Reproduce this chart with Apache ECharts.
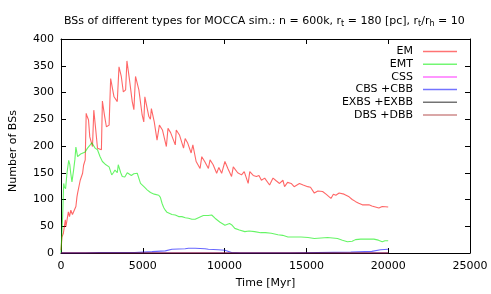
<!DOCTYPE html>
<html><head><meta charset="utf-8">
<script src="https://cdn.jsdelivr.net/npm/echarts@6/dist/echarts.min.js"></script>
<style>html,body{margin:0;padding:0;background:#fff}#c{width:491px;height:294px}</style>
</head><body><div id="c"></div>
<script>
var xTicks = [0, 5000, 10000, 15000, 20000, 25000];
var yTicks = [0, 50, 100, 150, 200, 250, 300, 350, 400];
var seriesNames = ['EM', 'EMT', 'CSS', 'CBS +CBB', 'EXBS +EXBB', 'DBS +DBB'];

var emData = [[0,5],[60,30],[145,37],[265,62],[300,49],[450,77],[520,68],[600,80],[700,72],[810,75],[910,87],[975,105],[1015,112],[1175,136],[1320,149],[1380,164],[1480,174],[1540,261],[1600,255],[1680,249],[1760,217],[1925,199],[2005,267],[2125,230],[2230,196],[2470,193],[2530,284],[2670,255],[2775,236],[2940,239],[3035,326],[3240,292],[3440,283],[3545,348],[3685,330],[3810,301],[3950,305],[4030,359],[4190,323],[4355,283],[4455,268],[4555,330],[4760,305],[4960,258],[5060,245],[5125,292],[5370,255],[5465,250],[5525,270],[5700,245],[5870,211],[6015,239],[6200,230],[6440,199],[6540,233],[6700,225],[6985,202],[7045,230],[7250,220],[7490,196],[7590,214],[7750,205],[7955,187],[8060,202],[8260,171],[8500,158],[8605,180],[8800,170],[9010,158],[9110,174],[9300,165],[9515,149],[9650,160],[9820,149],[10020,171],[10200,158],[10425,143],[10530,161],[10800,150],[11035,146],[11200,152],[11440,130],[11540,152],[11750,145],[11945,143],[12100,145],[12250,136],[12450,140],[12550,143],[12750,127],[12960,140],[13150,135],[13360,130],[13565,136],[13665,124],[13850,132],[14070,130],[14250,124],[14575,130],[14800,127],[15080,124],[15250,123],[15485,112],[15700,116],[15990,115],[16200,110],[16500,102],[16650,110],[16800,108],[17000,112],[17300,110],[17610,105],[17800,100],[18015,96],[18200,93],[18420,90],[18825,90],[19000,88],[19430,84],[19635,87],[20000,86]];

var emtData = [[0,0],[40,30],[100,68],[165,130],[205,124],[280,120],[365,149],[470,173],[540,165],[590,150],[670,133],[770,155],[850,175],[910,198],[1015,180],[1075,177],[1200,185],[1320,186],[1480,189],[1620,196],[1785,202],[1880,206],[1950,203],[2085,196],[2230,193],[2390,180],[2530,171],[2590,168],[2700,166],[2800,165],[2940,161],[3100,146],[3200,150],[3300,155],[3440,150],[3500,165],[3650,150],[3745,143],[3900,142],[4050,150],[4150,152],[4300,145],[4450,148],[4660,149],[4760,148],[4860,130],[4960,127],[5100,123],[5265,118],[5365,118],[5470,113],[5570,112],[5700,110],[5770,112],[5975,108],[6075,104],[6175,93],[6275,85],[6375,80],[6480,76],[6580,74],[6780,72],[6985,71],[7190,68],[7390,68],[7600,66],[7795,65],[8000,63],[8200,63],[8400,66],[8500,68],[8700,70],[8805,71],[9000,70],[9210,71],[9315,71],[9415,65],[9515,62],[9700,58],[9820,59],[10020,52],[10120,52],[10300,55],[10425,53],[10625,46],[10900,43],[11235,40],[11500,41],[11840,40],[12200,38],[12500,38],[12855,37],[13260,34],[13550,33],[13870,30],[14300,30],[14675,30],[15100,29],[15485,27],[15900,28],[16295,29],[16600,28],[16900,27],[17200,24],[17510,21],[17800,22],[18000,25],[18320,26],[18700,26],[19125,26],[19400,24],[19635,21],[19800,23],[20000,23]];

var cssData = [[0,0],[5000,0],[10000,0],[15000,0],[20000,0]];
var cbsData = [[0,0],[1500,0],[2330,1],[3500,1],[4500,1],[5570,2.5],[6375,4],[6780,7],[7590,8],[7795,9],[8200,9],[8800,8],[9010,7],[9615,6],[10020,5],[10425,1],[11000,0],[12500,0],[14000,0],[15690,1],[17710,2],[19000,3],[19530,6],[20000,7]];
var exbsData = [[0,0],[5000,0],[10000,0],[15000,0],[20000,0]];
var dbsData = [[0,0],[5000,0],[10000,0],[15000,0],[20000,0]];

var colors = ['#ff0000', '#00ee00', '#ff00ff', '#0000ff', '#000000', '#a52a2a'];
var datas = [emData, emtData, cssData, cbsData, exbsData, dbsData];

var FONT = 'DejaVu Sans';
var FS = 11;
var chart = echarts.init(document.getElementById('c'), null, {renderer: 'canvas'});

function axisBase(pos, showLabel) {
  return {
    type: 'value', position: pos,
    axisLine: {show: true, onZero: false, lineStyle: {color: '#000', width: 1}},
    axisTick: {show: true, inside: true, length: 5, lineStyle: {color: '#000'}},
    splitLine: {show: false},
    axisLabel: {show: showLabel, color: '#000', fontFamily: FONT, fontSize: FS,
      formatter: function (v) { return String(v); }}
  };
}

var xb = axisBase('bottom', true);
xb.min = xTicks[0]; xb.max = xTicks[xTicks.length - 1]; xb.interval = xTicks[1] - xTicks[0];
xb.name = 'Time [Myr]'; xb.nameLocation = 'middle'; xb.nameGap = 25;
xb.nameTextStyle = {color: '#000', fontFamily: FONT, fontSize: FS};
xb.axisLabel.margin = 8;
var xt = axisBase('top', false);
xt.min = xb.min; xt.max = xb.max; xt.interval = xb.interval;

var yl = axisBase('left', true);
yl.min = yTicks[0]; yl.max = yTicks[yTicks.length - 1]; yl.interval = yTicks[1] - yTicks[0];
yl.name = 'Number of BSs'; yl.nameLocation = 'middle'; yl.nameGap = 42;
yl.nameTextStyle = {color: '#000', fontFamily: FONT, fontSize: FS, padding: [0, 10, 0, 0]};
yl.axisLabel.margin = 7;
var yr = axisBase('right', false);
yr.min = yl.min; yr.max = yl.max; yr.interval = yl.interval;

var series = seriesNames.map(function (n, i) {
  return {
    name: n, type: 'line', data: datas[i], xAxisIndex: 0, yAxisIndex: 0,
    showSymbol: false, symbol: 'none', animation: false,
    lineStyle: {color: colors[i], width: 1.1, opacity: 0.6},
    itemStyle: {color: colors[i], opacity: 0.6}
  };
});

chart.setOption({
  animation: false,
  backgroundColor: '#fff',
  title: {
    text: 'BSs of different types for MOCCA sim.: n = 600k, r{s|t} = 180 [pc], r{s|t}/r{s|h} = 10',
    left: 64, top: 14, padding: 0,
    textStyle: {
      color: '#000', fontFamily: FONT, fontSize: FS, fontWeight: 'normal',
      rich: {s: {fontSize: 8, fontFamily: FONT, color: '#000', padding: [6, 0, 0, 0]}}
    }
  },
  legend: {
    orient: 'vertical', right: 34, top: 45.5, align: 'right', padding: 0,
    icon: 'rect', itemWidth: 34, itemHeight: 1.5, itemGap: 0.7,
    textStyle: {color: '#000', fontFamily: FONT, fontSize: FS, width: 75, align: 'right', lineHeight: 12, padding: [0, 5, 0, 0]},
    data: seriesNames.map(function (n, i) {
      return {name: n, itemStyle: {color: colors[i], opacity: 0.55}};
    })
  },
  grid: {left: 58, right: 21, top: 39, bottom: 41, containLabel: false},
  xAxis: [xb, xt],
  yAxis: [yl, yr],
  series: series
});
</script>
</body></html>
